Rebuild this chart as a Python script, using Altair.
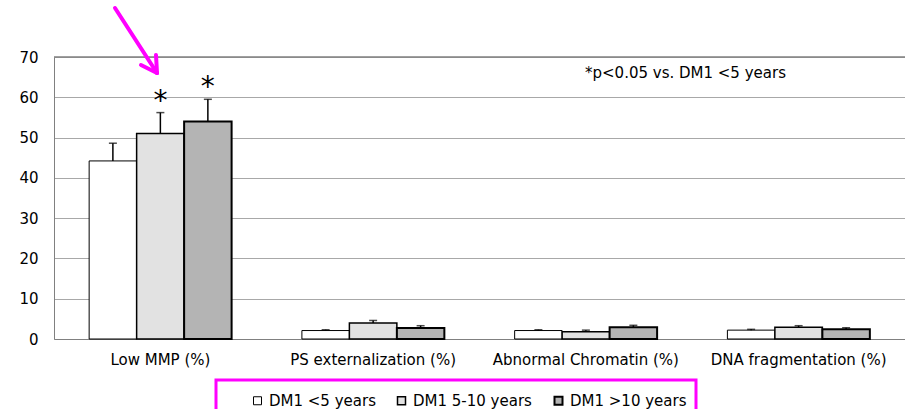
import altair as alt
import pandas as pd

categories = ["Low MMP (%)", "PS externalization (%)", "Abnormal Chromatin (%)", "DNA fragmentation (%)"]
series = ["DM1 <5 years", "DM1 5-10 years", "DM1 >10 years"]
means_lt5 = [44.2, 2.1, 2.1, 2.2]
means_5_10 = [51.0, 4.0, 1.8, 2.9]
means_gt10 = [54.0, 2.7, 2.9, 2.4]
err_lt5 = [4.4, 0.2, 0.2, 0.2]
err_5_10 = [5.2, 0.6, 0.4, 0.4]
err_gt10 = [5.5, 0.6, 0.5, 0.4]
star_5_10 = [True, False, False, False]
star_gt10 = [True, False, False, False]
star_lt5 = [False, False, False, False]
fills = ["#ffffff", "#e2e2e2", "#b4b4b4"]
note = "*p<0.05 vs. DM1 <5 years"

rows = []
for s, m, e, st in zip(series, [means_lt5, means_5_10, means_gt10],
                       [err_lt5, err_5_10, err_gt10], [star_lt5, star_5_10, star_gt10]):
    for c, mv, ev, sv in zip(categories, m, e, st):
        rows.append({"category": c, "series": s, "mean": mv, "top": mv + ev, "star": sv})
df = pd.DataFrame(rows)

X = alt.X("category:N", sort=categories,
          scale=alt.Scale(paddingInner=0, paddingOuter=0),
          axis=alt.Axis(title=None, labelAngle=0, ticks=False, labelFontSize=15,
                        labelPadding=13, domainColor="#808080", labelColor="black",
                        labelFont="DejaVu Sans", labelLimit=400))
XO = alt.XOffset("series:N", sort=series, scale=alt.Scale(paddingInner=0, paddingOuter=0.74))
Y = alt.Y("mean:Q", scale=alt.Scale(domain=[0, 70]),
          axis=alt.Axis(values=list(range(0, 80, 10)), title=None, ticks=False,
                        labelFontSize=15, labelPadding=16, gridColor="#a8a8a8",
                        domainColor="#808080", labelColor="black", labelFont="DejaVu Sans"))

base = alt.Chart(df)

bars = base.mark_bar(stroke="black").encode(
    x=X, xOffset=XO, y=Y,
    fill=alt.Fill("series:N", sort=series, scale=alt.Scale(domain=series, range=fills),
                  legend=alt.Legend(orient="none", legendX=196, legendY=336,
                                    direction="horizontal", title=None,
                                    symbolType="square", symbolSize=64,
                                    labelFontSize=15, labelFont="DejaVu Sans",
                                    columnPadding=18, labelOffset=4, padding=0,
                                    symbolStrokeColor="black", symbolStrokeWidth=1,
                                    labelColor="black")),
    strokeWidth=alt.StrokeWidth("series:N", scale=alt.Scale(domain=series, range=[1, 2, 2]),
                                legend=None),
)

whisk = base.mark_rule(color="black", strokeWidth=1.5).encode(
    x=X, xOffset=XO, y=Y, y2="top:Q")
caps = base.mark_tick(color="black", thickness=1.5, size=8).encode(
    x=X, xOffset=XO, y=alt.Y("top:Q"))
stars = base.transform_filter("datum.star").mark_text(
    text="*", fontSize=28, baseline="alphabetic", dy=-3, color="black",
    font="DejaVu Sans").encode(x=X, xOffset=XO, y=alt.Y("top:Q"))

one = alt.Data(values=[{}])
top_line = alt.Chart(one).mark_rule(color="#808080", strokeWidth=1.5).encode(
    x=alt.value(0), x2=alt.value(851), y=alt.value(0))
note_txt = alt.Chart(one).mark_text(text=note, align="left", baseline="middle",
                                    fontSize=15, font="DejaVu Sans", color="black").encode(
    x=alt.value(531), y=alt.value(16))
box = alt.Chart(one).mark_rect(fill="transparent", stroke="#ff00ff", strokeWidth=3).encode(
    x=alt.value(162), x2=alt.value(642), y=alt.value(323), y2=alt.value(370))
arrow_parts = []
for (x1, y1, x2, y2) in [(61, -49, 103, 16), (103, 16, 102, -2), (103, 16, 87, 8)]:
    arrow_parts.append(alt.Chart(one).mark_rule(color="#ff00ff", strokeWidth=4,
                                                strokeCap="round").encode(
        x=alt.value(x1), y=alt.value(y1), x2=alt.value(x2), y2=alt.value(y2)))

chart = alt.layer(bars, whisk, caps, stars, top_line, note_txt, box, *arrow_parts).properties(
    width=851, height=282,
    autosize=alt.AutoSizeParams(type="none"),
    padding={"left": 54, "top": 57, "right": 0, "bottom": 70},
).configure_view(stroke=None).configure(background="white")

chart.save("out.html", embed_options={"renderer": "svg", "actions": False})
